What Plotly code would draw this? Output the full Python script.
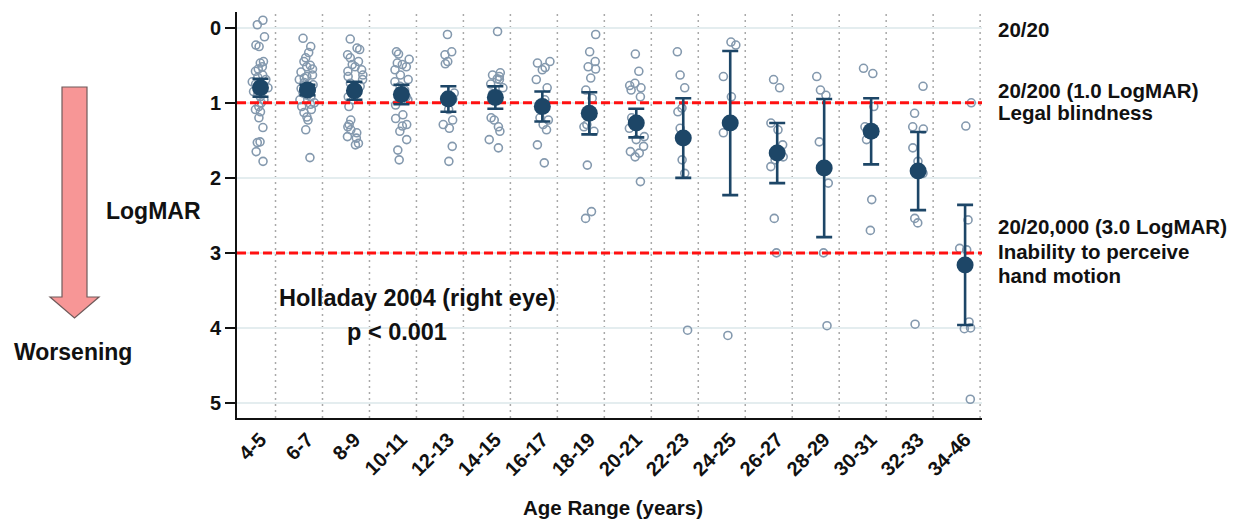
import plotly.graph_objects as go

# Age groups (years)
age_groups = ["4-5", "6-7", "8-9", "10-11", "12-13", "14-15", "16-17", "18-19",
              "20-21", "22-23", "24-25", "26-27", "28-29", "30-31", "32-33", "34-46"]

# Individual LogMAR readings, right eye, per age group
g04_05 = [-0.10, -0.04, 0.12, 0.23, 0.25, 0.45, 0.47, 0.52, 0.55, 0.58, 0.63, 0.66, 0.69, 0.72, 0.75,
          0.80, 0.82, 0.85, 0.88, 0.92, 0.96, 1.00, 1.05, 1.09, 1.12, 1.20, 1.33, 1.52, 1.53, 1.65, 1.78]
g06_07 = [0.14, 0.25, 0.33, 0.40, 0.45, 0.50, 0.52, 0.55, 0.59, 0.63, 0.65, 0.67, 0.69, 0.73, 0.76, 0.79,
          0.81, 0.83, 0.87, 0.90, 0.92, 0.96, 1.00, 1.02, 1.05, 1.09, 1.13, 1.19, 1.23, 1.36, 1.73]
g08_09 = [0.15, 0.27, 0.29, 0.36, 0.40, 0.45, 0.49, 0.52, 0.56, 0.58, 0.63, 0.65, 0.69, 0.74, 0.78,
          0.83, 0.87, 0.92, 0.96, 1.05, 1.23, 1.29, 1.32, 1.36, 1.40, 1.45, 1.47, 1.54, 1.56]
g10_11 = [0.32, 0.35, 0.42, 0.47, 0.49, 0.52, 0.56, 0.63, 0.69, 0.72, 0.78, 0.83, 0.92, 0.96, 1.03,
          1.16, 1.21, 1.29, 1.31, 1.38, 1.49, 1.63, 1.76]
g12_13 = [0.09, 0.32, 0.36, 0.45, 0.48, 0.87, 0.90, 0.95, 1.09, 1.23, 1.29, 1.34, 1.58, 1.78]
g14_15 = [0.05, 0.60, 0.63, 0.65, 0.68, 0.69, 0.75, 0.80, 0.88, 0.95, 1.20, 1.23, 1.32, 1.38, 1.49, 1.60]
g16_17 = [0.45, 0.47, 0.53, 0.56, 0.69, 0.80, 0.96, 1.10, 1.20, 1.23, 1.29, 1.36, 1.56, 1.80]
g18_19 = [0.09, 0.32, 0.45, 0.52, 0.55, 0.67, 0.83, 0.94, 1.29, 1.32, 1.38, 1.83, 2.45, 2.54]
g20_21 = [0.35, 0.58, 0.74, 0.77, 0.80, 0.83, 0.92, 1.20, 1.25, 1.34, 1.45, 1.49, 1.58, 1.65, 1.67,
          1.72, 2.05]
g22_23 = [0.32, 0.63, 0.80, 1.07, 1.12, 1.34, 1.76, 1.94, 4.03]
g24_25 = [0.19, 0.23, 0.65, 0.92, 1.40, 4.10]
g26_27 = [0.69, 0.80, 1.27, 1.36, 1.56, 1.62, 1.72, 1.76, 1.85, 2.54, 3.00]
g28_29 = [0.65, 0.83, 0.90, 1.52, 2.07, 3.00, 3.97]
g30_31 = [0.54, 0.61, 1.05, 1.32, 1.36, 1.49, 2.29, 2.70]
g32_33 = [0.78, 1.14, 1.32, 1.35, 1.60, 1.78, 1.94, 2.54, 2.60, 3.95]
g34_46 = [1.00, 1.31, 2.56, 2.94, 2.96, 3.92, 4.00, 4.01, 4.95]

group_readings = [g04_05, g06_07, g08_09, g10_11, g12_13, g14_15, g16_17, g18_19,
                  g20_21, g22_23, g24_25, g26_27, g28_29, g30_31, g32_33, g34_46]

# Group mean LogMAR and 95% confidence half-width
mean_logmar = [0.80, 0.83, 0.84, 0.89, 0.95, 0.93, 1.05, 1.14, 1.27, 1.47, 1.27, 1.67, 1.87, 1.38, 1.91, 3.16]
ci_logmar = [0.12, 0.07, 0.12, 0.13, 0.17, 0.15, 0.20, 0.28, 0.19, 0.53, 0.96, 0.40, 0.92, 0.44, 0.52, 0.80]

# Reference thresholds (LogMAR)
threshold_levels = [1.0, 3.0]
y_ticks = [0, 1, 2, 3, 4, 5]

# ---- page geometry (pixels) ----
W_PX, H_PX = 1236, 521
PL, PR, PT, PB = 237, 982, 12, 418
X_RANGE = [-0.5, 15.36]


def fx(x):
    return (x - PL) / (PR - PL)


def fy(y):
    return (PB - y) / (PB - PT)


FONT = "Liberation Sans, Arial, sans-serif"
NAVY = "#1d4667"
DOT = "#8499ae"

fig = go.Figure()

# threshold lines drawn as dashed traces across the full width
for lv in threshold_levels:
    fig.add_trace(go.Scatter(
        x=X_RANGE, y=[lv, lv], mode="lines",
        line=dict(color="#ff1010", width=3, dash="9px,4px"),
        showlegend=False, hoverinfo="skip", cliponaxis=False,
    ))

# individual readings, jittered around each group position
xs, ys = [], []
for i, vals in enumerate(group_readings):
    xs += [i] * len(vals)
    ys += vals
fig.add_trace(go.Box(
    x=xs, y=ys, boxpoints="all", jitter=1.0, pointpos=0, width=0.36,
    fillcolor="rgba(0,0,0,0)", line=dict(width=0, color="rgba(0,0,0,0)"),
    marker=dict(symbol="circle-open", size=8, color=DOT, line=dict(width=1.6, color=DOT)),
    hoverinfo="skip", showlegend=False,
))

# group means with confidence intervals
fig.add_trace(go.Scatter(
    x=list(range(len(age_groups))), y=mean_logmar, mode="markers",
    marker=dict(size=17, color=NAVY),
    error_y=dict(type="data", array=ci_logmar, visible=True, color=NAVY, thickness=2.6, width=8),
    showlegend=False, hoverinfo="skip",
))

n = len(age_groups)
shapes = []
# dotted separators between age groups
for i in range(n):
    shapes.append(dict(type="line", xref="x", yref="paper", x0=i + 0.32, x1=i + 0.32, y0=0, y1=1,
                       line=dict(color="#a9a9a9", width=1.5, dash="2px,4px"), layer="below"))

# "worsening" arrow
arrow_pts = [(62, 87), (87, 87), (87, 297), (99, 297), (74.5, 318), (50, 297), (62, 297)]
path = "M " + " L ".join(f"{fx(x):.5f},{fy(y):.5f}" for x, y in arrow_pts) + " Z"
shapes.append(dict(type="path", xref="paper", yref="paper", path=path,
                   fillcolor="#f79696", line=dict(color="#6f5b5b", width=1.2), layer="above"))

annotations = []


def text(s, x, y, size, xanchor="center", yanchor="middle"):
    annotations.append(dict(text=s, x=fx(x), y=fy(y), xref="paper", yref="paper",
                            xanchor=xanchor, yanchor=yanchor, showarrow=False,
                            font=dict(family=FONT, size=size, color="#111111", weight="bold")))


text("LogMAR", 153, 211, 23)
text("Worsening", 73, 352, 23)
text("Holladay 2004 (right eye)", 417, 298, 23.5)
text("p < 0.001", 397, 332, 23.5)
text("Age Range (years)", 613, 507, 20.5)
text("20/20", 996, 30, 20.5, xanchor="left")
text("20/200 (1.0 LogMAR)", 996, 90, 20.5, xanchor="left")
text("Legal blindness", 996, 112, 20.5, xanchor="left")
text("20/20,000 (3.0 LogMAR)", 996, 226, 20.5, xanchor="left")
text("Inability to perceive", 996, 251, 20.5, xanchor="left")
text("hand motion", 996, 275, 20.5, xanchor="left")

fig.update_layout(
    width=W_PX, height=H_PX,
    margin=dict(l=PL, r=W_PX - PR, t=PT, b=H_PX - PB, pad=0),
    paper_bgcolor="white", plot_bgcolor="white",
    boxmode="overlay",
    shapes=shapes, annotations=annotations,
    font=dict(family=FONT, color="#111111"),
    xaxis=dict(
        range=X_RANGE, tickmode="array", tickvals=list(range(n)), ticktext=age_groups,
        tickangle=-45, tickfont=dict(size=20, family=FONT, weight="bold", color="#111111"),
        showgrid=False, zeroline=False, showline=True, linecolor="#111111", linewidth=2,
        ticks="",
    ),
    yaxis=dict(
        range=[5.2, -0.21], tickmode="array", tickvals=y_ticks,
        tickfont=dict(size=20, family=FONT, weight="bold", color="#111111"),
        showgrid=True, gridcolor="#e4edef", gridwidth=1.5, zeroline=False,
        showline=True, linecolor="#111111", linewidth=2,
        ticks="outside", ticklen=10, tickwidth=2, tickcolor="#111111",
    ),
)

fig.write_html("out.html")
